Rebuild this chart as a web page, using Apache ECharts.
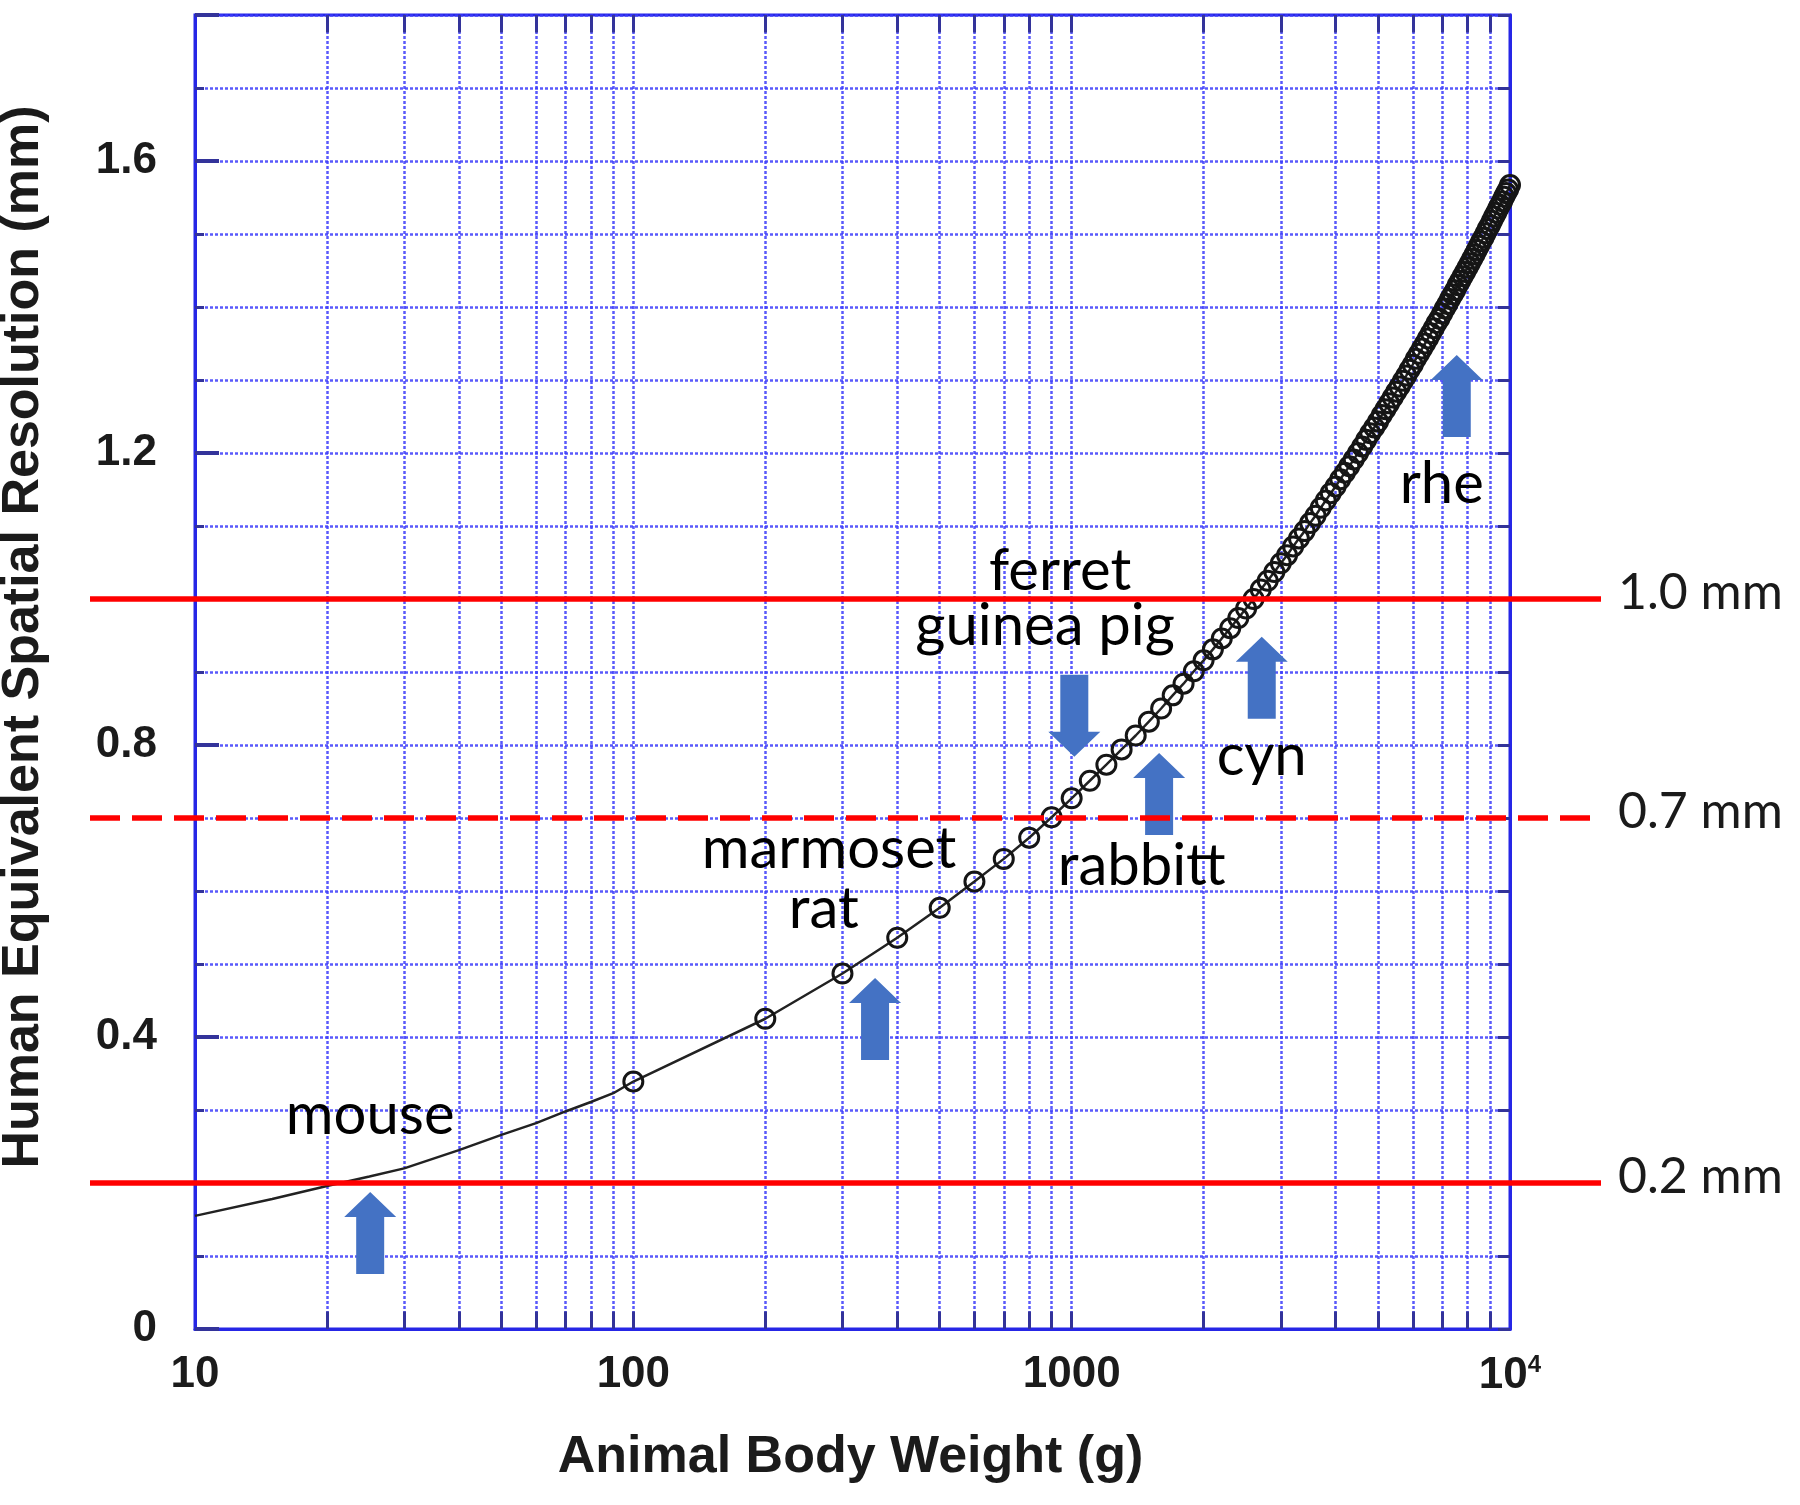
<!DOCTYPE html>
<html><head><meta charset="utf-8">
<script src="https://cdn.jsdelivr.net/npm/echarts@6/dist/echarts.min.js"></script>
<style>html,body{margin:0;padding:0;background:#fff}#c{width:1800px;height:1505px}</style>
</head><body><div id="c"></div>
<script>
// ---- data ----
const lowWeights = [10,15,20,25,30,40,50,60,70,80,90,100];
const lowResolution = [0.155,0.178,0.196,0.209,0.220,0.245,0.266,0.282,0.298,0.311,0.323,0.339];

const weights = [100,200,300,400,500,600,700,800,900,1000,
1100,1200,1300,1400,1500,1600,1700,1800,1900,2000,
2100,2200,2300,2400,2500,2600,2700,2800,2900,3000,
3100,3200,3300,3400,3500,3600,3700,3800,3900,4000,
4100,4200,4300,4400,4500,4600,4700,4800,4900,5000,
5100,5200,5300,5400,5500,5600,5700,5800,5900,6000,
6100,6200,6300,6400,6500,6600,6700,6800,6900,7000,
7100,7200,7300,7400,7500,7600,7700,7800,7900,8000,
8100,8200,8300,8400,8500,8600,8700,8800,8900,9000,
9100,9200,9300,9400,9500,9600,9700,9800,9900,10000];
const resolution = [0.339,0.425,0.487,0.536,0.577,0.613,0.644,0.673,0.701,0.727,
0.751,0.773,0.794,0.813,0.832,0.850,0.868,0.884,0.901,0.916,
0.931,0.946,0.960,0.974,0.987,1.000,1.013,1.025,1.037,1.049,
1.060,1.072,1.083,1.093,1.104,1.114,1.125,1.135,1.145,1.154,
1.164,1.173,1.182,1.191,1.200,1.209,1.218,1.227,1.235,1.243,
1.252,1.260,1.268,1.276,1.284,1.291,1.299,1.306,1.314,1.321,
1.329,1.336,1.343,1.350,1.357,1.364,1.371,1.378,1.384,1.391,
1.398,1.404,1.411,1.417,1.423,1.430,1.436,1.442,1.448,1.454,
1.460,1.466,1.472,1.478,1.484,1.490,1.495,1.501,1.507,1.512,
1.518,1.524,1.529,1.535,1.540,1.545,1.551,1.556,1.561,1.567];

const gridXValues = [20,30,40,50,60,70,80,90,100,200,300,400,500,600,700,800,900,1000,2000,3000,4000,5000,6000,7000,8000,9000];
const yTickLabels = ['0','0.4','0.8','1.2','1.6'];
const xTickLabels = {1:'10', 2:'100', 3:'1000', 4:'{b|10}{s|4}'};

const arrowWeights = [25.1, 356, 1014, 1583, 2714, 7560];
const arrowRes = [0.1315, 0.4245, 0.840, 0.733, 0.892, 1.278];
const arrowDown = [false, false, true, false, false, false];

const labelNames = ['mouse','marmoset','rat','ferret','guinea pig','rabbitt','cyn','rhe'];
const labelWeights = [25.1, 279.6, 272, 941, 869.6, 1445, 2714, 6989];
const labelRes = [0.293, 0.6575, 0.575, 1.038, 0.963, 0.634, 0.785, 1.157];

const refValues = [1.0, 0.7, 0.2];
const refLabels = ['1.0 mm', '0.7 mm', '0.2 mm'];
const refDashed = [false, true, false];

// ---- chart ----
const BLUE = '#2626e6';
const GRIDC = 'rgba(60,60,250,0.85)';
const chart = echarts.init(document.getElementById('c'), null, {renderer: 'canvas'});

const lowData = lowWeights.map((w, i) => [w, lowResolution[i]]);
const mainData = weights.map((w, i) => [w, resolution[i]]);
const arrowData = arrowWeights.map((w, i) => ({value: [w, arrowRes[i]], symbolRotate: arrowDown[i] ? 180 : 0}));
const labelData = labelNames.map((n, i) => ({name: n, value: [labelWeights[i], labelRes[i]]}));

const vGridLines = gridXValues.map(v => ({xAxis: v}));
const xTickSegs = [];
gridXValues.forEach(v => {
  xTickSegs.push([{coord: [v, 0]}, {coord: [v, 0.024]}]);
  xTickSegs.push([{coord: [v, 1.776]}, {coord: [v, 1.8]}]);
});

const isMajorY = v => Math.abs(v / 0.4 - Math.round(v / 0.4)) < 1e-6;

chart.setOption({
  animation: false,
  backgroundColor: '#ffffff',
  grid: {left: 195, right: 290, top: 15, bottom: 176, show: true, borderColor: BLUE, borderWidth: 3, backgroundColor: 'transparent', containLabel: false, outerBoundsMode: 'none'},
  xAxis: {
    type: 'log', logBase: 10, min: 10, max: 10000,
    axisLine: {show: true, lineStyle: {color: BLUE, width: 3}},
    axisTick: {show: false},
    splitLine: {show: false},
    axisLabel: {
      margin: 24, fontSize: 44, fontWeight: 'bold', fontFamily: 'Liberation Sans', color: '#1b1b1b',
      formatter: v => xTickLabels[Math.round(Math.log10(v))] || '',
      rich: {
        b: {fontSize: 44, fontWeight: 'bold', fontFamily: 'Liberation Sans', color: '#1b1b1b'},
        s: {fontSize: 24, fontWeight: 'bold', fontFamily: 'Liberation Sans', color: '#1b1b1b', verticalAlign: 'top', padding: [0, 0, 22, 0]}
      }
    }
  },
  yAxis: [
    {
      type: 'value', min: 0, max: 1.8, interval: 0.1, position: 'left',
      axisLine: {show: true, lineStyle: {color: BLUE, width: 3}},
      axisTick: {show: true, inside: true, length: 9, lineStyle: {color: '#33339a', width: 3}},
      splitLine: {show: true, lineStyle: {color: GRIDC, width: 2.5, type: [3, 2]}},
      axisLabel: {
        margin: 38, fontSize: 44, fontWeight: 'bold', fontFamily: 'Liberation Sans', color: '#1b1b1b',
        formatter: v => isMajorY(v) ? yTickLabels[Math.round(v / 0.4)] : ''
      }
    },
    {
      type: 'value', min: 0, max: 1.8, interval: 0.1, position: 'right',
      axisLine: {show: true, lineStyle: {color: BLUE, width: 3}},
      axisTick: {show: true, inside: true, length: 12, lineStyle: {color: '#33339a', width: 3}},
      splitLine: {show: false}, axisLabel: {show: false}
    },
    {
      type: 'value', min: 0, max: 1.8, interval: 0.4, position: 'left',
      axisLine: {show: false},
      axisTick: {show: true, inside: true, length: 24, lineStyle: {color: '#33339a', width: 4}},
      splitLine: {show: false}, axisLabel: {show: false}
    }
  ],
  series: [
    {
      name: 'grid', type: 'line', data: [], z: 1, silent: true,
      markLine: {
        silent: true, symbol: ['none', 'none'], label: {show: false}, animation: false,
        lineStyle: {color: GRIDC, width: 2.5, type: [3, 2]},
        data: vGridLines
      }
    },
    {
      name: 'ticks', type: 'line', data: [], z: 2, silent: true,
      markLine: {
        silent: true, symbol: ['none', 'none'], label: {show: false}, animation: false,
        lineStyle: {color: '#33339a', width: 3, type: 'solid'},
        data: xTickSegs
      }
    },
    {
      name: 'low', type: 'line', data: lowData, showSymbol: false, symbol: 'none', z: 5,
      lineStyle: {color: '#222', width: 2.5}
    },
    {
      name: 'main', type: 'line', data: mainData, z: 6,
      symbol: 'circle', symbolSize: 19, showSymbol: true, showAllSymbol: true,
      lineStyle: {color: '#222', width: 2.5},
      itemStyle: {color: 'rgba(255,255,255,0)', borderColor: '#151515', borderWidth: 3}
    },
    {
      name: 'arrows', type: 'scatter', data: arrowData, z: 7, silent: true,
      symbol: 'path://M26,0 L52,25 L40,25 L40,82 L12,82 L12,25 L0,25 Z',
      symbolSize: [52, 82],
      itemStyle: {color: '#4472C4', opacity: 1}
    },
    {
      name: 'labels', type: 'scatter', data: labelData, z: 8, silent: true,
      symbol: 'circle', symbolSize: 1, itemStyle: {color: 'rgba(0,0,0,0)'},
      label: {show: true, position: 'inside', formatter: p => p.name, fontSize: 58, fontFamily: 'Lato', color: '#000000', opacity: 1, textBorderWidth: 0}
    }
  ]
});

// reference lines that reach outside the plot area
const pxL = chart.convertToPixel({xAxisIndex: 0, yAxisIndex: 0}, [10, 0])[0];
const pxR = chart.convertToPixel({xAxisIndex: 0, yAxisIndex: 0}, [10000, 0])[0];
const graphics = [];
refValues.forEach((v, i) => {
  const py = chart.convertToPixel({xAxisIndex: 0, yAxisIndex: 0}, [10, v])[1];
  graphics.push({
    type: 'line', z: 20, silent: true,
    shape: {x1: pxL - 105, y1: py, x2: pxR + 91, y2: py},
    style: {stroke: '#ff0000', lineWidth: 5.5, lineDash: refDashed[i] ? [30, 12] : null}
  });
  graphics.push({
    type: 'text', z: 20, silent: true, x: pxR + 108, y: py - 6,
    style: {text: refLabels[i], fontSize: 50, fontFamily: 'Lato', fill: '#1a1a1a', textAlign: 'left', textVerticalAlign: 'middle'}
  });
});
graphics.push({
  type: 'text', z: 20, silent: true, x: 24, y: 637, rotation: Math.PI / 2,
  style: {text: 'Human Equivalent Spatial Resolution (mm)', fontSize: 52, fontWeight: 'bold', fontFamily: 'Liberation Sans', fill: '#1b1b1b', textAlign: 'center', textVerticalAlign: 'middle'}
});
graphics.push({
  type: 'text', z: 20, silent: true, x: (pxL + pxR) / 2 - 2, y: 1458,
  style: {text: 'Animal Body Weight (g)', fontSize: 52, fontWeight: 'bold', fontFamily: 'Liberation Sans', fill: '#1b1b1b', textAlign: 'center', textVerticalAlign: 'middle'}
});
chart.setOption({graphic: graphics});
</script>
</body></html>
